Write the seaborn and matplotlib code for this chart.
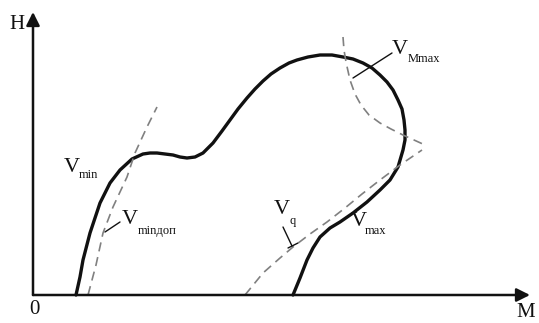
import numpy as np
import pandas as pd
import matplotlib
matplotlib.use("Agg")
import matplotlib.pyplot as plt
import seaborn as sns

sns.set_theme(style="white")
plt.rcParams['font.family'] = ['Liberation Serif', 'DejaVu Serif']

# 비행 영역 경계 (M, H) - 그림에서 읽은 값
env_m = [0.43, 0.47, 0.50, 0.57, 0.67, 0.77, 0.87, 0.99, 1.10, 1.17, 1.24, 1.32,
         1.40, 1.47, 1.54, 1.62, 1.70, 1.80, 1.89, 1.97, 2.05, 2.14, 2.22, 2.30,
         2.38, 2.47, 2.56, 2.64, 2.75, 2.87, 2.99, 3.10, 3.20, 3.30, 3.39, 3.47,
         3.54, 3.60, 3.65, 3.69, 3.71, 3.72, 3.72, 3.70, 3.65, 3.57, 3.47, 3.34,
         3.20, 3.07, 2.97, 2.87, 2.80, 2.74, 2.67, 2.60]
env_h = [0.00, 0.18, 0.35, 0.62, 0.92, 1.12, 1.25, 1.36, 1.41, 1.42, 1.42, 1.41,
         1.40, 1.38, 1.37, 1.38, 1.42, 1.52, 1.64, 1.75, 1.86, 1.97, 2.06, 2.14,
         2.21, 2.27, 2.32, 2.35, 2.38, 2.40, 2.40, 2.38, 2.36, 2.32, 2.27, 2.20,
         2.13, 2.05, 1.95, 1.86, 1.75, 1.65, 1.55, 1.45, 1.28, 1.15, 1.05, 0.93,
         0.82, 0.73, 0.67, 0.58, 0.47, 0.35, 0.17, 0.00]

# 점선 제한선
vmindop_m = [0.55, 0.63, 0.70, 0.80, 0.94, 1.02, 1.14, 1.24]
vmindop_h = [0.00, 0.30, 0.62, 0.88, 1.18, 1.42, 1.68, 1.88]

vq_m = [2.12, 2.30, 2.47, 2.60, 2.77, 2.94, 3.12, 3.29, 3.47, 3.67, 3.89]
vq_h = [0.00, 0.22, 0.37, 0.48, 0.61, 0.73, 0.87, 1.01, 1.15, 1.30, 1.45]

vmmax_m = [3.10, 3.11, 3.13, 3.17, 3.22, 3.28, 3.36, 3.47, 3.58, 3.70, 3.81, 3.92]
vmmax_h = [2.58, 2.45, 2.33, 2.15, 2.01, 1.90, 1.80, 1.72, 1.66, 1.60, 1.55, 1.50]

fig = plt.figure(figsize=(5.39, 3.23), dpi=100)
ax = fig.add_axes([0, 0, 1, 1])

ink = '#111111'
dash_col = '#808080'

sns.lineplot(data=pd.DataFrame({'M': env_m, 'H': env_h}), x='M', y='H', sort=False,
             estimator=None, color=ink, lw=2.4, ax=ax,
             solid_joinstyle='round', solid_capstyle='round')
for mm, hh in [(vmindop_m, vmindop_h), (vq_m, vq_h), (vmmax_m, vmmax_h)]:
    sns.lineplot(data=pd.DataFrame({'M': mm, 'H': hh}), x='M', y='H', sort=False,
                 estimator=None, color=dash_col, lw=1.2, ax=ax, dashes=False)
    ax.lines[-1].set_linestyle((0, (5.5, 3.5)))

ax.set_xlim(-0.33, 5.06)
ax.set_ylim(-0.28, 2.95)
ax.axis('off')

# 좌표축 화살표
arrow = dict(arrowstyle='-|>', lw=1.8, color=ink, mutation_scale=20,
             shrinkA=0, shrinkB=0)
ax.annotate('', xy=(0, 2.83), xytext=(0, 0), arrowprops=arrow)
ax.annotate('', xy=(4.97, 0), xytext=(0, 0), arrowprops=arrow)

ax.text(-0.16, 2.71, 'H', fontsize=15, ha='center', va='center', color=ink)
ax.text(0.01, -0.15, '0', fontsize=15, ha='center', va='center', color=ink)
ax.text(4.93, -0.27, 'M', fontsize=15, ha='center', va='bottom', color=ink)

# 라벨 (V + 아래첨자)
labels = [
    (0.31, 1.28, 0.46, 1.20, 'min'),
    (0.89, 0.76, 1.05, 0.64, 'minдоп'),
    (2.41, 0.85, 2.57, 0.74, 'q'),
    (3.18, 0.74, 3.32, 0.64, 'max'),
    (3.59, 2.45, 3.75, 2.36, 'Mmax'),
]
for vx, vy, sx, sy, sub in labels:
    ax.text(vx, vy, 'V', fontsize=16, ha='left', va='center', color=ink)
    ax.text(sx, sy, sub, fontsize=9, ha='left', va='center', color=ink)

line = dict(arrowstyle='-', lw=1.0, color=ink, shrinkA=0, shrinkB=0)
ax.annotate('', xy=(0.72, 0.63), xytext=(0.87, 0.73), arrowprops=line)
ax.annotate('', xy=(2.59, 0.49), xytext=(2.50, 0.68), arrowprops=line)
ax.annotate('', xy=(2.55, 0.47), xytext=(2.65, 0.52), arrowprops=line)
ax.annotate('', xy=(3.20, 2.17), xytext=(3.59, 2.42), arrowprops=line)

fig.savefig('out.png', dpi=100, facecolor='white')
